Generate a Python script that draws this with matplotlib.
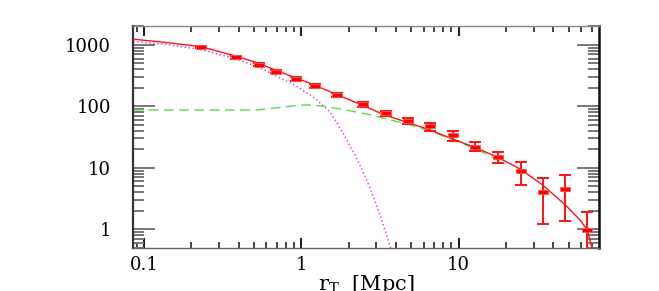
import numpy as np
import matplotlib
matplotlib.use('Agg')
import matplotlib.pyplot as plt
from matplotlib.ticker import LogLocator, FixedLocator, FixedFormatter, NullFormatter

plt.rcParams['font.family'] = ['DejaVu Serif']
plt.rcParams['mathtext.fontset'] = 'dejavuserif'

# measured points (r_T in Mpc, w and its error limits)
r_pts = [0.229, 0.385, 0.539, 0.690, 0.925, 1.227, 1.694, 2.456, 3.455,
         4.77, 6.58, 9.21, 12.77, 17.73, 24.83, 34.4, 47.7, 65.8]
w_pts = [917, 631, 478, 363, 279, 212, 152, 108, 77.2,
         58.5, 47.4, 34.6, 22.1, 15.0, 8.99, 4.09, 4.52, 0.98]
w_lo = [880, 600, 455, 343, 262, 198, 141, 99, 70.6,
        52.3, 40.2, 27.6, 18.8, 12.1, 5.3, 1.23, 1.34, 0.3]
w_hi = [955, 662, 502, 384, 297, 227, 164, 117, 84.2,
        65.5, 54.3, 40.2, 26.0, 17.9, 12.6, 6.82, 7.55, 1.93]

# total model (solid red)
r_tot = [0.0855, 0.136, 0.229, 0.3845, 0.538, 0.691, 0.925, 1.227, 1.694, 2.457,
         3.32, 4.68, 6.58, 9.25, 12.77, 17.73, 24.8, 34.4, 47.7, 59.1, 65.8, 71.5]
w_tot = [1239, 1098, 938, 657, 500, 384, 290, 219, 154.5, 103.4,
         73.8, 55.1, 41.3, 29.1, 21.3, 14.8, 9.45, 5.19, 2.48, 1.41, 0.97, 0.425]

# one-halo term (dotted magenta)
r_1h = [0.0855, 0.136, 0.227, 0.3845, 0.538, 0.691, 0.925, 1.222, 1.522, 1.841,
        2.194, 2.541, 2.941, 3.307, 3.717, 3.885]
w_1h = [1140, 1019, 845, 592, 430, 313, 215, 134.5, 81.1, 36.9,
        16.2, 7.35, 2.88, 1.215, 0.476, 0.34]

# two-halo term (dashed green)
r_2h = [0.0855, 0.227, 0.5205, 0.732, 0.981, 1.169, 1.415, 1.841, 2.734, 3.49,
        4.77, 6.58, 9.21, 12.71, 18.3]
w_2h = [87.4, 87.4, 87.4, 95.9, 104.6, 105.4, 99.6, 89.0, 73.0, 62.3,
        50.7, 39.7, 28.4, 20.6, 12.9]

xticks = [0.1, 1, 10]
xticklabels = ['0.1', '1', '10']
yticks = [1, 10, 100, 1000]
yticklabels = ['1', '10', '100', '1000']

fig = plt.figure(figsize=(6.59, 2.91), dpi=100)
fig.patch.set_facecolor('white')
ax = fig.add_axes([0.2023, 0.1488, 0.7071, 0.7619])
ax.set_xscale('log')
ax.set_yscale('log')
ax.set_xlim(0.0855, 78.4)
ax.set_ylim(0.5, 2030)

ax.plot(r_1h, w_1h, color='#ee44ee', lw=1.1, ls=(0, (1, 1.6)), zorder=2)
ax.plot(r_2h, w_2h, color='#55dd44', lw=1.0, ls=(0, (7, 4)), zorder=2)
ax.plot(r_tot, w_tot, color='#ff1111', lw=1.0, zorder=3)

w = np.array(w_pts)
yerr = [w - np.array(w_lo), np.array(w_hi) - w]
rect = [(-1, -0.5), (1, -0.5), (1, 0.5), (-1, 0.5), (-1, -0.5)]
_, caps, bars = ax.errorbar(r_pts, w_pts, yerr=yerr, fmt='none', ecolor='#ff1111',
                            elinewidth=1.4, capsize=4, capthick=1.4, zorder=4)
for c in caps:
    c.set_color('#ff7a7a')
ax.plot(r_pts, w_pts, ls='none', marker=rect, ms=6.6, mfc='#ff0000',
        mec='#ff5555', mew=0.6, zorder=5)

# ticks
ax.xaxis.set_major_locator(FixedLocator(xticks))
ax.xaxis.set_major_formatter(FixedFormatter(xticklabels))
ax.xaxis.set_minor_locator(LogLocator(base=10, subs=np.arange(2, 10)))
ax.xaxis.set_minor_formatter(NullFormatter())
ax.yaxis.set_major_locator(FixedLocator(yticks))
ax.yaxis.set_major_formatter(FixedFormatter(yticklabels))
ax.yaxis.set_minor_locator(LogLocator(base=10, subs=np.arange(2, 10), numticks=20))
ax.yaxis.set_minor_formatter(NullFormatter())

ax.tick_params(axis='x', which='major', direction='in', top=True, bottom=True,
               length=7.5, width=1.5, color='#222222', labelsize=13, pad=6)
ax.tick_params(axis='x', which='minor', direction='in', top=True, bottom=True,
               length=4, width=1.2, color='#222222')
ax.tick_params(axis='y', which='major', direction='in', left=True, right=True,
               length=16, width=1.4, color='#777777', labelsize=13, pad=16)
ax.tick_params(axis='y', which='minor', direction='in', left=True, right=True,
               length=8, width=1.4, color='#777777')

ax.spines['left'].set_color('#333333')
ax.spines['left'].set_linewidth(1.6)
ax.spines['right'].set_color('#111111')
ax.spines['right'].set_linewidth(1.8)
ax.spines['top'].set_color('#888888')
ax.spines['top'].set_linewidth(1.0)
ax.spines['bottom'].set_color('#666666')
ax.spines['bottom'].set_linewidth(1.0)

ax.set_xlabel(r'r$_{\rm T}$  [Mpc]', fontsize=15)
ax.xaxis.set_label_coords(0.5, -0.115)
ax.set_ylabel(r'w$_{\rm gg}$(r$_{\rm T}$)  [Mpc]', fontsize=15)
ax.yaxis.set_label_coords(-0.28, 0.5)

fig.savefig('out.png', dpi=100)
